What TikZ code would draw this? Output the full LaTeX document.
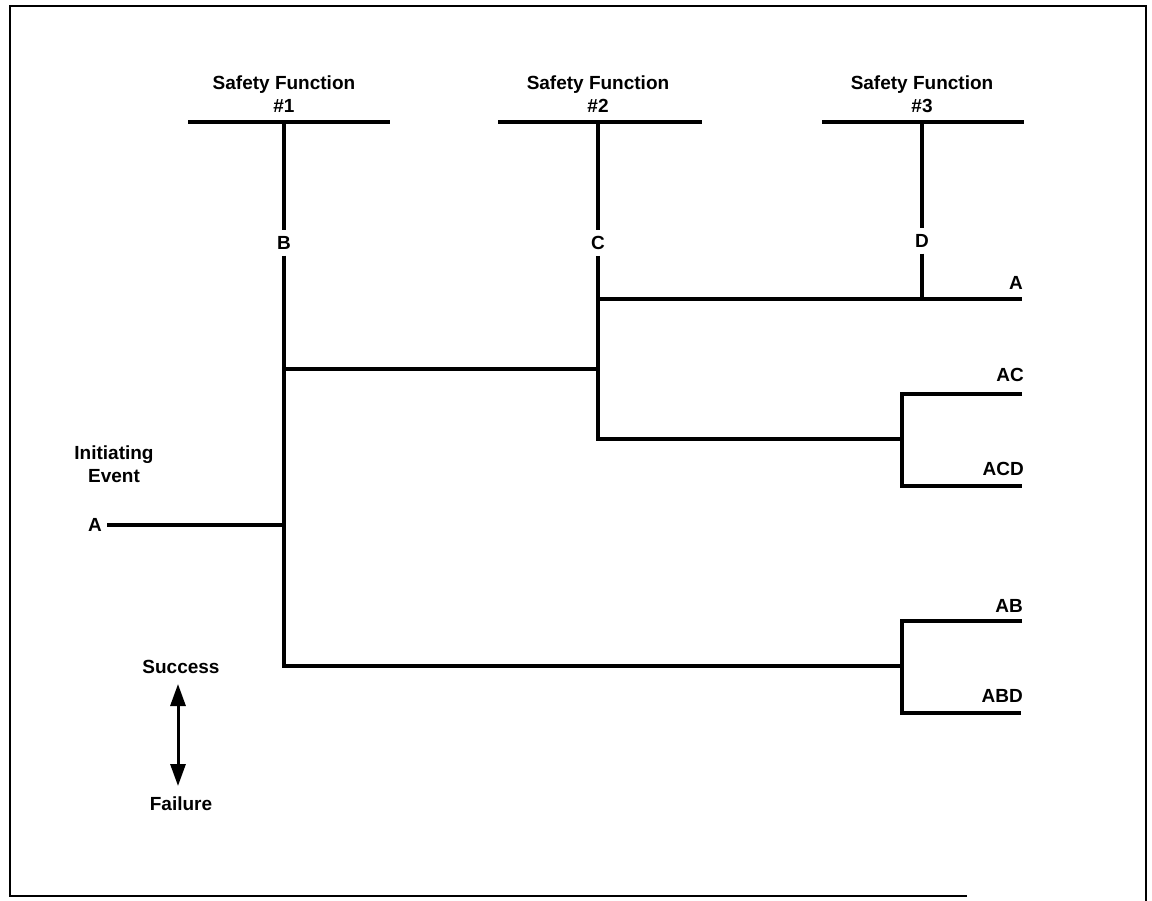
\documentclass[tikz,border=0pt]{standalone}
\usepackage{fontspec}
\setmainfont{Liberation Sans}
\usetikzlibrary{arrows.meta}
\begin{document}
\begin{tikzpicture}[x=1pt,y=-1pt,
  ln/.style={line width=3.2pt},
  frame/.style={line width=2.4pt},
  lbl/.style={font=\bfseries\fontsize{19}{23.5}\selectfont, inner sep=0pt, align=center},
  letter/.style={font=\bfseries\fontsize{19}{22}\selectfont, inner sep=6pt},
  endlbl/.style={font=\bfseries\fontsize{19}{22}\selectfont, inner sep=0pt, anchor=base east}]
\useasboundingbox (0,0) rectangle (1152,901);
% frame
\draw[frame] (967,896) -- (10,896) -- (10,6) -- (1146,6) -- (1146,901);

% headers
\node[lbl, anchor=base] (sf1) at (284,113) {Safety Function\\\#1};
\node[lbl, anchor=base] (sf2) at (598,113) {Safety Function\\\#2};
\node[lbl, anchor=base] (sf3) at (922,113) {Safety Function\\\#3};

\coordinate (b1l) at (188,122); \coordinate (b1m) at (284,122); \coordinate (b1r) at (390,122);
\coordinate (b2l) at (498,122); \coordinate (b2m) at (598,122); \coordinate (b2r) at (702,122);
\coordinate (b3l) at (822,122); \coordinate (b3m) at (922,122); \coordinate (b3r) at (1024,122);
\draw[ln] (b1l) -- (b1r);
\draw[ln] (b2l) -- (b2r);
\draw[ln] (b3l) -- (b3m) -- (b3r);

% branch letters
\node[letter] (B) at (284,243) {B};
\node[letter] (C) at (598,243) {C};
\node[letter] (D) at (922,241) {D};

% junction coordinates
\coordinate (jA) at (284,525);
\coordinate (jB) at (284,369);
\coordinate (jBf) at (284,666);
\coordinate (jC) at (598,369);
\coordinate (jCs) at (598,299);
\coordinate (jCf) at (598,439);
\coordinate (jD) at (922,299);
\coordinate (eA) at (1022,299);
\coordinate (k1) at (902,439);
\coordinate (k1t) at (902,394);
\coordinate (k1b) at (902,486);
\coordinate (eAC) at (1022,394);
\coordinate (eACD) at (1022,486);
\coordinate (k2) at (902,666);
\coordinate (k2t) at (902,621);
\coordinate (k2b) at (902,713);
\coordinate (eAB) at (1022,621);
\coordinate (eABD) at (1021,713);

% initiating event
\node[lbl] (ie) at (114,464) {Initiating\\Event};
\node[font=\bfseries\fontsize{19}{22}\selectfont, inner sep=5pt] (A0) at (95,525) {A};

% connectors
\draw[ln] (b1m) -- (B);
\draw[ln] (B) -- (jBf) -- (k2);
\draw[ln] (A0) -- (jA);
\draw[ln] (jB) -- (jC);
\draw[ln] (b2m) -- (C);
\draw[ln] (C) -- (jCf) -- (k1);
\draw[ln] (jCs) -- (eA);
\draw[ln] (b3m) -- (D);
\draw[ln] (D) -- (jD);
\draw[ln] (eAC) -- (k1t) -- (k1b) -- (eACD);
\draw[ln] (eAB) -- (k2t) -- (k2b) -- (eABD);

% end labels
\node[endlbl] (lA) at (1023,290) {A};
\node[endlbl] (lAC) at (1024,382) {AC};
\node[endlbl] (lACD) at (1024,475) {ACD};
\node[endlbl] (lAB) at (1023,612) {AB};
\node[endlbl] (lABD) at (1023,702) {ABD};

% legend
\node[lbl] (succ) at (181,667) {Success};
\node[lbl] (fail) at (181,804) {Failure};
\coordinate (ar1) at (178,684);
\coordinate (ar2) at (178,786);
\draw[line width=3pt, {Triangle[width=15pt,length=22pt]}-{Triangle[width=15pt,length=22pt]}]
  (ar1) -- (ar2);
\end{tikzpicture}
\end{document}
